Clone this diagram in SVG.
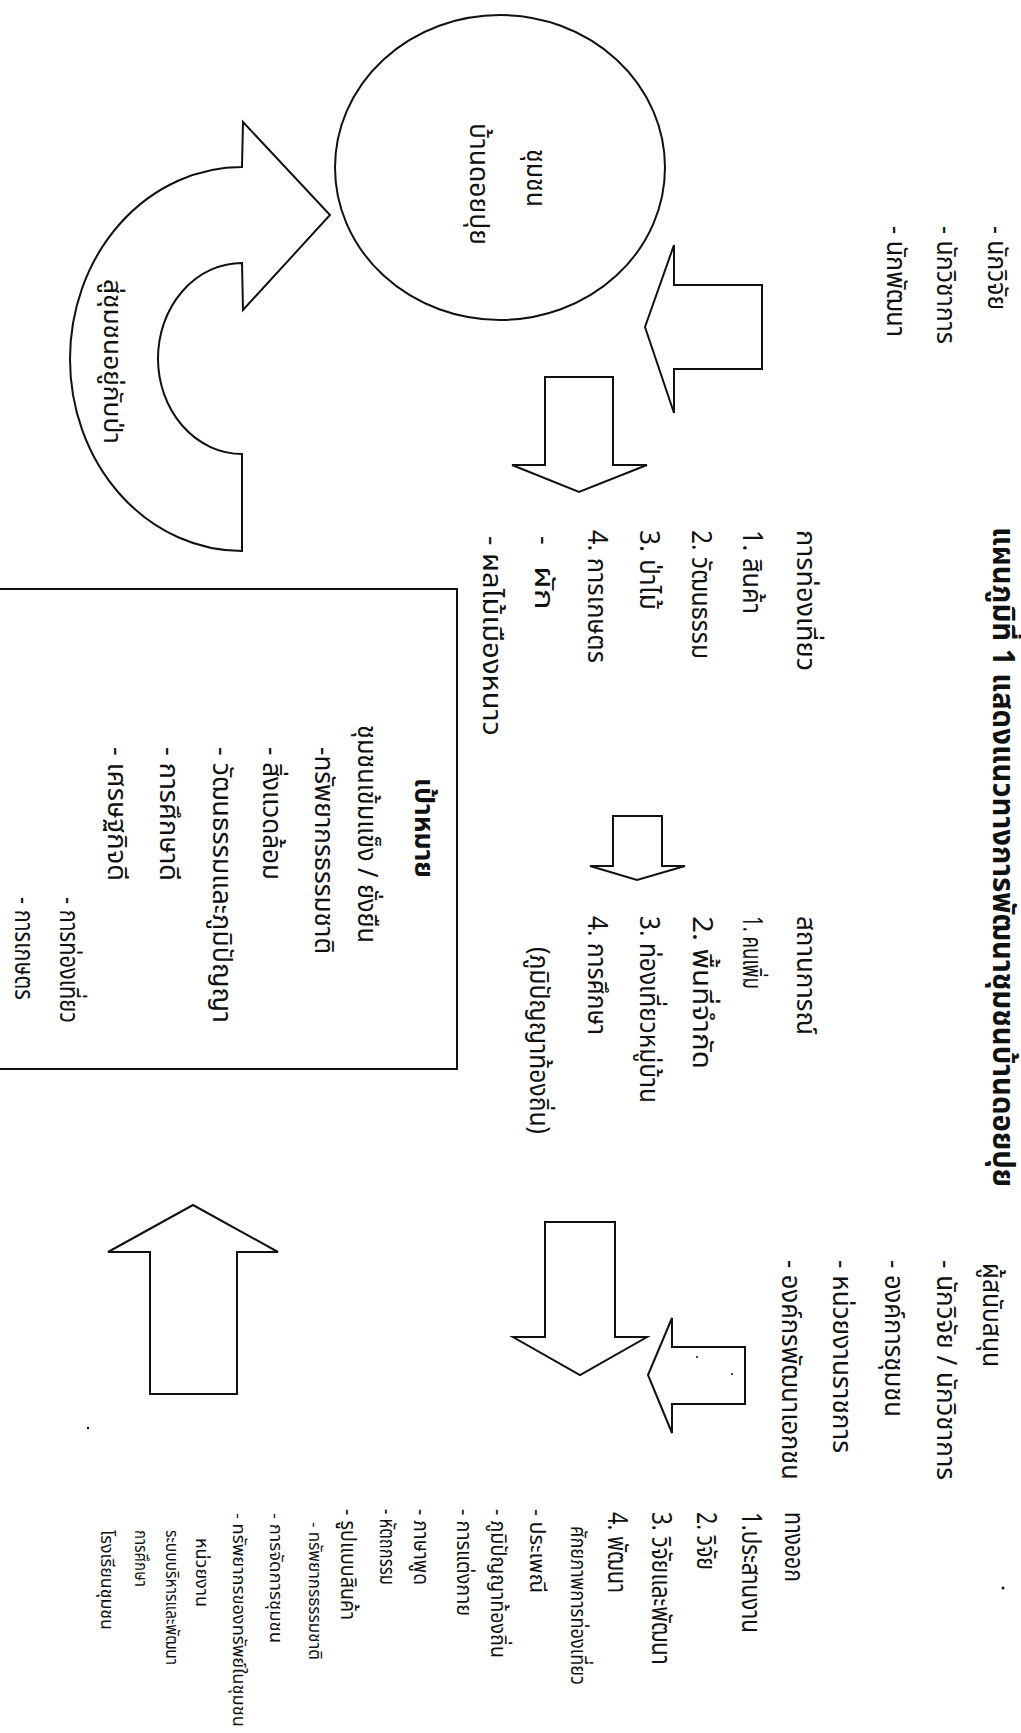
<svg xmlns="http://www.w3.org/2000/svg" width="1021" height="1733" viewBox="0 0 1021 1733">
<style>
text{font-family:"Noto Sans Thai","Noto Sans","DejaVu Sans",sans-serif;fill:#111}
.m{font-size:27px}
.s{font-size:22px}
.xs{font-size:17px}
.b{font-weight:bold}
.c{text-anchor:middle}
.sh{fill:#fff;stroke:#111;stroke-width:2;stroke-linejoin:miter}
</style>
<rect width="1021" height="1733" fill="#fff"/>
<g id="title"><text class="b" style="font-size:30px" transform="translate(993,527) rotate(90)" textLength="660" lengthAdjust="spacingAndGlyphs">แผนภูมิที่ 1 แสดงแนวทางการพัฒนาชุมชนบ้านดอยปุย</text></g>
<g id="connectors">
<path id="curved-arrow" class="sh" d="M242 551 A172 192 0 0 1 242 167 L243 122 L330 215 L243 310 L242 263 A84 95.5 0 0 0 242 454 Z"/>
<polygon id="arrow-left-1" class="sh" points="645,327 674,245 674,285 762,285 762,369 674,369 674,413"/>
<polygon id="arrow-down-1" class="sh" points="545,377 613,377 613,465 647,465 579,492 512,465 545,465"/>
<polygon id="arrow-down-2" class="sh" points="613,816 662,816 662,866 685,866 637,880 590,866 613,866"/>
<polygon id="arrow-down-3" class="sh" points="545,1222 615,1222 615,1337 647,1337 580,1375 513,1337 545,1337"/>
<polygon id="arrow-left-2" class="sh" points="648,1375 672,1318 672,1347 745,1347 745,1404 672,1404 672,1433"/>
<polygon id="arrow-up" class="sh" points="193,1205 278,1252 237,1252 237,1394 150,1394 150,1252 108,1252"/>
<text style="font-size:24px" transform="translate(104,279) rotate(90)" textLength="165" lengthAdjust="spacingAndGlyphs">สู่ชุมชนอยู่กับป่า</text>
</g>
<g id="community">
<ellipse cx="500" cy="167.5" rx="165" ry="152.5" fill="#fff" stroke="#111" stroke-width="2"/>
<text class="m c" transform="translate(527,178) rotate(90)" textLength="58" lengthAdjust="spacingAndGlyphs">ชุมชน</text>
<text class="m c" transform="translate(470,184) rotate(90)" textLength="122" lengthAdjust="spacingAndGlyphs">บ้านดอยปุย</text>
</g>
<g id="actors-top">
<text class="m" transform="translate(988,226) rotate(90)" textLength="84" lengthAdjust="spacingAndGlyphs">- นักวิจัย</text>
<text class="m" transform="translate(937,226) rotate(90)" textLength="118" lengthAdjust="spacingAndGlyphs">- นักวิชาการ</text>
<text class="m" transform="translate(887,226) rotate(90)" textLength="111" lengthAdjust="spacingAndGlyphs">- นักพัฒนา</text>
</g>
<g id="tourism">
<text class="m" transform="translate(797,530) rotate(90)" textLength="141" lengthAdjust="spacingAndGlyphs">การท่องเที่ยว</text>
<text class="m" transform="translate(743,530) rotate(90)" textLength="84" lengthAdjust="spacingAndGlyphs">1. สินค้า</text>
<text class="m" transform="translate(692,530) rotate(90)" textLength="129" lengthAdjust="spacingAndGlyphs">2. วัฒนธรรม</text>
<text class="m" transform="translate(640,530) rotate(90)" textLength="80" lengthAdjust="spacingAndGlyphs">3. ป่าไม้</text>
<text class="m" transform="translate(588,530) rotate(90)" textLength="133" lengthAdjust="spacingAndGlyphs">4. การเกษตร</text>
<text class="m" transform="translate(535,536) rotate(90)">-</text>
<text class="m" transform="translate(535,566) rotate(90)" textLength="44" lengthAdjust="spacingAndGlyphs">ผัก</text>
<text class="m" transform="translate(483,536) rotate(90)" textLength="200" lengthAdjust="spacingAndGlyphs">- ผลไม้เมืองหนาว</text>
</g>
<g id="situation">
<text class="m" transform="translate(797,916) rotate(90)" textLength="119" lengthAdjust="spacingAndGlyphs">สถานการณ์</text>
<text class="m" transform="translate(743,916) rotate(90)" textLength="73" lengthAdjust="spacingAndGlyphs">1. คนเพิ่ม</text>
<text class="m" transform="translate(693,916) rotate(90)" textLength="153" lengthAdjust="spacingAndGlyphs">2. พื้นที่จำกัด</text>
<text class="m" transform="translate(640,916) rotate(90)" textLength="187" lengthAdjust="spacingAndGlyphs">3. ท่องเที่ยวหมู่บ้าน</text>
<text class="m" transform="translate(588,916) rotate(90)" textLength="119" lengthAdjust="spacingAndGlyphs">4. การศึกษา</text>
<text class="m" transform="translate(530,947) rotate(90)" textLength="187" lengthAdjust="spacingAndGlyphs">(ภูมิปัญญาท้องถิ่น)</text>
</g>
<g id="goal">
<rect x="-5" y="589" width="462" height="480" fill="none" stroke="#111" stroke-width="2"/>
<text class="m b c" transform="translate(415,828) rotate(90)" textLength="100" lengthAdjust="spacingAndGlyphs">เป้าหมาย</text>
<text class="m c" transform="translate(358,834) rotate(90)" textLength="218" lengthAdjust="spacingAndGlyphs">ชุมชนเข้มแข็ง / ยั่งยืน</text>
<text class="m" transform="translate(315,747) rotate(90)" textLength="207" lengthAdjust="spacingAndGlyphs">-ทรัพยากรธรรมชาติ</text>
<text class="m" transform="translate(263,747) rotate(90)" textLength="133" lengthAdjust="spacingAndGlyphs">- สิ่งแวดล้อม</text>
<text class="m" transform="translate(213,747) rotate(90)" textLength="276" lengthAdjust="spacingAndGlyphs">- วัฒนธรรมและภูมิปัญญา</text>
<text class="m" transform="translate(160,747) rotate(90)" textLength="134" lengthAdjust="spacingAndGlyphs">- การศึกษาดี</text>
<text class="m" transform="translate(108,747) rotate(90)" textLength="134" lengthAdjust="spacingAndGlyphs">- เศรษฐกิจดี</text>
<text class="m" transform="translate(60,897) rotate(90)" textLength="126" lengthAdjust="spacingAndGlyphs">- การท่องเที่ยว</text>
<text class="m" transform="translate(15,897) rotate(90)" textLength="103" lengthAdjust="spacingAndGlyphs">- การเกษตร</text>
</g>
<g id="supporters">
<text class="m" transform="translate(983,1263) rotate(90)" textLength="104" lengthAdjust="spacingAndGlyphs">ผู้สนับสนุน</text>
<text class="m" transform="translate(937,1260) rotate(90)" textLength="220" lengthAdjust="spacingAndGlyphs">- นักวิจัย / นักวิชาการ</text>
<text class="m" transform="translate(885,1260) rotate(90)" textLength="157" lengthAdjust="spacingAndGlyphs">- องค์การชุมชน</text>
<text class="m" transform="translate(833,1260) rotate(90)" textLength="193" lengthAdjust="spacingAndGlyphs">- หน่วยงานราชการ</text>
<text class="m" transform="translate(782,1260) rotate(90)" textLength="220" lengthAdjust="spacingAndGlyphs">- องค์กรพัฒนาเอกชน</text>
</g>
<g id="solutions">
<text class="m" transform="translate(785,1512) rotate(90)" textLength="70" lengthAdjust="spacingAndGlyphs">ทางออก</text>
<text class="m" transform="translate(742,1512) rotate(90)" textLength="121" lengthAdjust="spacingAndGlyphs">1.ประสานงาน</text>
<text class="m" transform="translate(697,1512) rotate(90)" textLength="58" lengthAdjust="spacingAndGlyphs">2. วิจัย</text>
<text class="m" transform="translate(652,1512) rotate(90)" textLength="153" lengthAdjust="spacingAndGlyphs">3. วิจัยและพัฒนา</text>
<text class="m" transform="translate(608,1512) rotate(90)" textLength="81" lengthAdjust="spacingAndGlyphs">4. พัฒนา</text>
<text class="s" transform="translate(571,1526) rotate(90)" textLength="159" lengthAdjust="spacingAndGlyphs">ศักยภาพการท่องเที่ยว</text>
<text class="s" transform="translate(530,1509) rotate(90)" textLength="84" lengthAdjust="spacingAndGlyphs">- ประเพณี</text>
<text class="s" transform="translate(491,1509) rotate(90)" textLength="149" lengthAdjust="spacingAndGlyphs">- ภูมิปัญญาท้องถิ่น</text>
<text class="s" transform="translate(457,1509) rotate(90)" textLength="107" lengthAdjust="spacingAndGlyphs">- การแต่งกาย</text>
<text class="s" transform="translate(414,1509) rotate(90)" textLength="76" lengthAdjust="spacingAndGlyphs">- ภาษาพูด</text>
<text class="s" transform="translate(380,1509) rotate(90)" textLength="76" lengthAdjust="spacingAndGlyphs">- หัตถกรรม</text>
<text class="s" transform="translate(341,1509) rotate(90)" textLength="111" lengthAdjust="spacingAndGlyphs">- รูปแบบสินค้า</text>
<text class="xs" transform="translate(309,1522) rotate(90)" textLength="138" lengthAdjust="spacingAndGlyphs">- ทรัพยากรธรรมชาติ</text>
<text class="xs" transform="translate(270,1513) rotate(90)" textLength="130" lengthAdjust="spacingAndGlyphs">- การจัดการชุมชน</text>
<text class="xs" transform="translate(233,1513) rotate(90)" textLength="214" lengthAdjust="spacingAndGlyphs">- ทรัพยากรของทรัพย์ในชุมชน</text>
<text class="xs" transform="translate(196,1538) rotate(90)" textLength="69" lengthAdjust="spacingAndGlyphs">หน่วยงาน</text>
<text class="xs" transform="translate(166,1530) rotate(90)" textLength="135" lengthAdjust="spacingAndGlyphs">ระบบบริหารและพัฒนา</text>
<text class="xs" transform="translate(135,1530) rotate(90)" textLength="57" lengthAdjust="spacingAndGlyphs">การศึกษา</text>
<text class="xs" transform="translate(101,1530) rotate(90)" textLength="100" lengthAdjust="spacingAndGlyphs">โรงเรียนชุมชน</text>
</g>
<g id="specks" fill="#111">
<circle cx="1003" cy="1588" r="1.5"/>
<circle cx="88" cy="1428" r="1.2"/>
<circle cx="337" cy="1527" r="1.2"/>
<circle cx="697" cy="1357" r="1"/>
<circle cx="732" cy="1374" r="1"/>
</g>
</svg>
